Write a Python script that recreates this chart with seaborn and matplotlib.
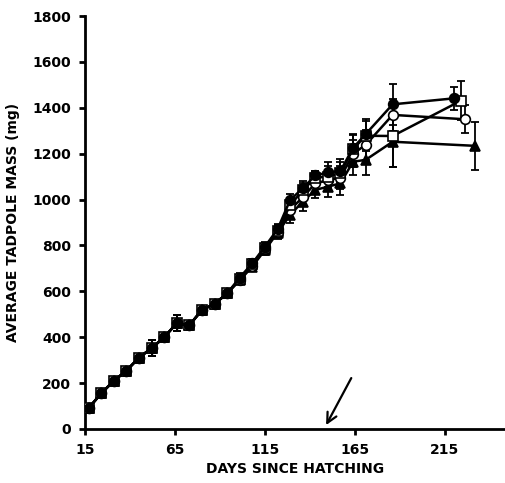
import matplotlib
matplotlib.use("Agg")
import matplotlib.pyplot as plt
import seaborn as sns
import pandas as pd
import numpy as np

# ---- data ----
days_early = [17, 24, 31, 38, 45, 52, 59, 66, 73, 80, 87, 94]
mass_early = [91, 155, 210, 254, 311, 352, 400, 461, 452, 519, 545, 591]
err_early = [12, 14, 14, 15, 18, 36, 16, 36, 16, 16, 18, 18]

days_mid = [101, 108, 115, 122, 129, 136, 143, 150, 157, 164, 171, 186]

mass_A = [660, 722, 795, 870, 998, 1049, 1105, 1118, 1125, 1225, 1285, 1415]
mass_B = [655, 718, 790, 865, 975, 1040, 1095, 1100, 1115, 1220, 1278, 1277]
mass_C = [650, 712, 785, 860, 955, 1010, 1070, 1085, 1095, 1200, 1238, 1369]
mass_D = [648, 708, 780, 855, 933, 991, 1042, 1056, 1071, 1165, 1173, 1252]

err_A = [18, 20, 22, 22, 25, 30, 20, 45, 50, 60, 65, 90]
err_B = [18, 20, 22, 22, 28, 32, 30, 45, 50, 60, 65, 137]
err_C = [18, 20, 22, 22, 30, 35, 35, 45, 50, 60, 65, 70]
err_D = [18, 20, 22, 25, 35, 40, 37, 43, 50, 60, 66, 112]

last_day = {"A": 220, "B": 224, "C": 226, "D": 232}
last_mass = {"A": 1441, "B": 1431, "C": 1350, "D": 1234}
last_err = {"A": 50, "B": 85, "C": 60, "D": 105}

x_ticks = [15, 65, 115, 165, 215]
y_ticks = [0, 200, 400, 600, 800, 1000, 1200, 1400, 1600, 1800]

arrow_tip = (149, 17)
arrow_tail = (163, 222)

# ---- build table ----
mids = {"A": (mass_A, err_A), "B": (mass_B, err_B), "C": (mass_C, err_C), "D": (mass_D, err_D)}
rows = []
for s, (m, e) in mids.items():
    for d, v, er in zip(days_early, mass_early, err_early):
        rows.append((s, d, v, er))
    for d, v, er in zip(days_mid, m, e):
        rows.append((s, d, v, er))
    rows.append((s, last_day[s], last_mass[s], last_err[s]))
df = pd.DataFrame(rows, columns=["series", "day", "mass", "err"])

sns.set_theme(style="ticks")
plt.rcParams["font.family"] = ["DejaVu Sans"]
plt.rcParams["font.weight"] = "bold"
plt.rcParams["text.color"] = "black"
plt.rcParams["axes.labelcolor"] = "black"
plt.rcParams["xtick.color"] = "black"
plt.rcParams["ytick.color"] = "black"

fig = plt.figure(figsize=(5.06, 4.83), dpi=100)
ax = fig.add_axes([85 / 506, 54 / 483, 421 / 506, 413 / 483])

styles = {
    "A": dict(marker="o", markerfacecolor="black", markersize=7),
    "B": dict(marker="s", markerfacecolor="white", markersize=7),
    "C": dict(marker="o", markerfacecolor="white", markersize=7),
    "D": dict(marker="^", markerfacecolor="black", markersize=7.5),
}
order = ["D", "C", "B", "A"]
for s in order:
    sub = df[df["series"] == s]
    ax.errorbar(sub["day"], sub["mass"], yerr=sub["err"], fmt="none",
                ecolor="black", elinewidth=1.3, capsize=3, capthick=1.3, zorder=2)
for s in order:
    sub = df[df["series"] == s]
    sns.lineplot(data=sub, x="day", y="mass", ax=ax, color="black", lw=1.8,
                 markeredgecolor="black", markeredgewidth=1.2, zorder=3,
                 estimator=None, sort=True, legend=False, **styles[s])

ax.annotate("", xy=arrow_tip, xytext=arrow_tail,
            arrowprops=dict(arrowstyle="->", lw=1.6, color="black",
                            mutation_scale=18, shrinkA=0, shrinkB=0))

ax.set_xlim(15, 249)
ax.set_ylim(0, 1800)
ax.set_xticks(x_ticks)
ax.set_yticks(y_ticks)
ax.set_xticklabels([str(t) for t in x_ticks], fontsize=10, fontweight="bold", color="black")
ax.set_yticklabels([str(t) for t in y_ticks], fontsize=10, fontweight="bold", color="black")
ax.set_xlabel("DAYS SINCE HATCHING", fontsize=10, fontweight="bold", labelpad=4, color="black")
ax.set_ylabel("AVERAGE TADPOLE MASS (mg)", fontsize=10, fontweight="bold", labelpad=9, color="black")
for sp in ["top", "right"]:
    ax.spines[sp].set_visible(False)
for sp in ["left", "bottom"]:
    ax.spines[sp].set_linewidth(2)
    ax.spines[sp].set_color("black")
ax.tick_params(axis="both", width=2, length=4, color="black", pad=6)
ax.set_facecolor("white")
fig.patch.set_facecolor("white")

fig.savefig("out.png", dpi=100)
